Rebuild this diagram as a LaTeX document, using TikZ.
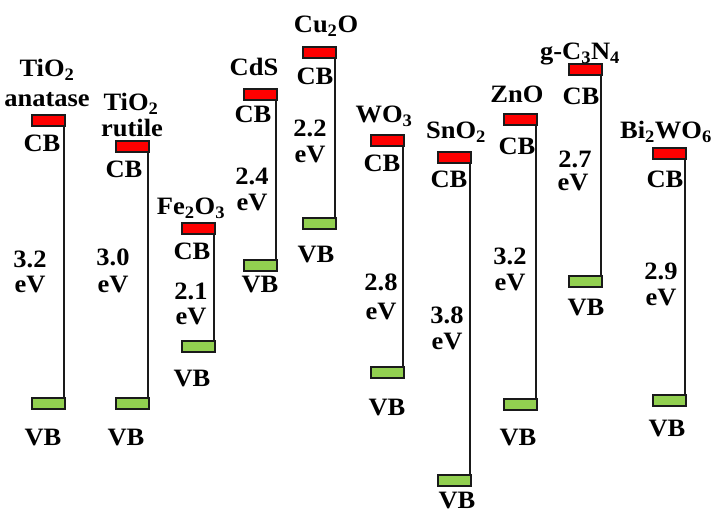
\documentclass[tikz,border=0pt]{standalone}
\usepackage{fontspec}
\newfontfamily\lblfont{Liberation Serif Bold}[FakeStretch=1.06]
\definecolor{cbred}{HTML}{FF0000}
\definecolor{vbgreen}{HTML}{92D050}
\definecolor{edgec}{HTML}{1A1A1A}
\tikzset{
  bandbar/.style={rectangle, draw=edgec, line width=1.6pt, minimum width=33pt, minimum height=11pt, inner sep=0pt, anchor=north west},
  cbbar/.style={bandbar, fill=cbred},
  vbbar/.style={bandbar, fill=vbgreen},
  lbl/.style={anchor=base, inner sep=0pt, font=\fontsize{25}{30}\lblfont},
  gapline/.style={draw=edgec, line width=1.6pt}
}
\begin{document}
\begin{tikzpicture}[x=1pt,y=-1pt]
\useasboundingbox (0,0) rectangle (713,513);
\fill[white] (0,0) rectangle (713,513);
% ---- column 1: TiO2 anatase
\draw[gapline] (31+33,114) coordinate (t1) -- (31+33,397) coordinate (b1);
\node[cbbar] (cb1) at (31,114) {};
\node[vbbar] (vb1) at (31,397) {};
\node[lbl] (m1a) at (47,77) {TiO\textsubscript{2}};
\node[lbl] (m1b) at (47,107) {anatase};
\node[lbl] (c1) at (42,152) {CB};
\node[lbl] (g1a) at (30,268) {3.2};
\node[lbl] (g1b) at (30,293) {eV};
\node[lbl] (v1) at (43,445) {VB};
% ---- column 2: TiO2 rutile
\draw[gapline] (115+33,140) coordinate (t2) -- (115+33,397) coordinate (b2);
\node[cbbar] (cb2) at (115,140) {};
\node[vbbar] (vb2) at (115,397) {};
\node[lbl] (m2a) at (131,111) {TiO\textsubscript{2}};
\node[lbl] (m2b) at (132,137) {rutile};
\node[lbl] (c2) at (124,178) {CB};
\node[lbl] (g2a) at (113,266) {3.0};
\node[lbl] (g2b) at (113,293) {eV};
\node[lbl] (v2) at (126,445) {VB};
% ---- column 3: Fe2O3
\draw[gapline] (181+33,222) coordinate (t3) -- (181+33,340) coordinate (b3);
\node[cbbar] (cb3) at (181,222) {};
\node[vbbar] (vb3) at (181,340) {};
\node[lbl] (m3) at (191,215) {Fe\textsubscript{2}O\textsubscript{3}};
\node[lbl] (c3) at (192,260) {CB};
\node[lbl] (g3a) at (191,300) {2.1};
\node[lbl] (g3b) at (191,325) {eV};
\node[lbl] (v3) at (192,386) {VB};
% ---- column 4: CdS
\draw[gapline] (243+33,88) coordinate (t4) -- (243+33,259) coordinate (b4);
\node[cbbar] (cb4) at (243,88) {};
\node[vbbar] (vb4) at (243,259) {};
\node[lbl] (m4) at (254,76) {CdS};
\node[lbl] (c4) at (253,123) {CB};
\node[lbl] (g4a) at (252,185) {2.4};
\node[lbl] (g4b) at (252,211) {eV};
\node[lbl] (v4) at (260,293) {VB};
% ---- column 5: Cu2O
\draw[gapline] (302+33,46) coordinate (t5) -- (302+33,217) coordinate (b5);
\node[cbbar] (cb5) at (302,46) {};
\node[vbbar] (vb5) at (302,217) {};
\node[lbl] (m5) at (326,33) {Cu\textsubscript{2}O};
\node[lbl] (c5) at (315,85) {CB};
\node[lbl] (g5a) at (310,137) {2.2};
\node[lbl] (g5b) at (310,163) {eV};
\node[lbl] (v5) at (316,263) {VB};
% ---- column 6: WO3
\draw[gapline] (370+33,134) coordinate (t6) -- (370+33,366) coordinate (b6);
\node[cbbar] (cb6) at (370,134) {};
\node[vbbar] (vb6) at (370,366) {};
\node[lbl] (m6) at (384,123) {WO\textsubscript{3}};
\node[lbl] (c6) at (382,172) {CB};
\node[lbl] (g6a) at (381,291) {2.8};
\node[lbl] (g6b) at (381,320) {eV};
\node[lbl] (v6) at (387,415) {VB};
% ---- column 7: SnO2
\draw[gapline] (437+33,151) coordinate (t7) -- (437+33,474) coordinate (b7);
\node[cbbar] (cb7) at (437,151) {};
\node[vbbar] (vb7) at (437,474) {};
\node[lbl] (m7) at (456,139) {SnO\textsubscript{2}};
\node[lbl] (c7) at (449,188) {CB};
\node[lbl] (g7a) at (447,324) {3.8};
\node[lbl] (g7b) at (447,350) {eV};
\node[lbl] (v7) at (457,508) {VB};
% ---- column 8: ZnO
\draw[gapline] (503+33,113) coordinate (t8) -- (503+33,398) coordinate (b8);
\node[cbbar] (cb8) at (503,113) {};
\node[vbbar] (vb8) at (503,398) {};
\node[lbl] (m8) at (517,103) {ZnO};
\node[lbl] (c8) at (517,155) {CB};
\node[lbl] (g8a) at (510,265) {3.2};
\node[lbl] (g8b) at (510,291) {eV};
\node[lbl] (v8) at (518,445) {VB};
% ---- column 9: g-C3N4
\draw[gapline] (568+33,63) coordinate (t9) -- (568+33,275) coordinate (b9);
\node[cbbar] (cb9) at (568,63) {};
\node[vbbar] (vb9) at (568,275) {};
\node[lbl] (m9) at (580,60) {g-C\textsubscript{3}N\textsubscript{4}};
\node[lbl] (c9) at (581,105) {CB};
\node[lbl] (g9a) at (575,168) {2.7};
\node[lbl] (g9b) at (573,191) {eV};
\node[lbl] (v9) at (586,316) {VB};
% ---- column 10: Bi2WO6
\draw[gapline] (652+33,147) coordinate (t10) -- (652+33,394) coordinate (b10);
\node[cbbar] (cb10) at (652,147) {};
\node[vbbar] (vb10) at (652,394) {};
\node[lbl, anchor=base east] (m10) at (712,139) {Bi\textsubscript{2}WO\textsubscript{6}};
\node[lbl] (c10) at (665,188) {CB};
\node[lbl] (g10a) at (661,280) {2.9};
\node[lbl] (g10b) at (661,306) {eV};
\node[lbl] (v10) at (667,436) {VB};
\end{tikzpicture}
\end{document}
